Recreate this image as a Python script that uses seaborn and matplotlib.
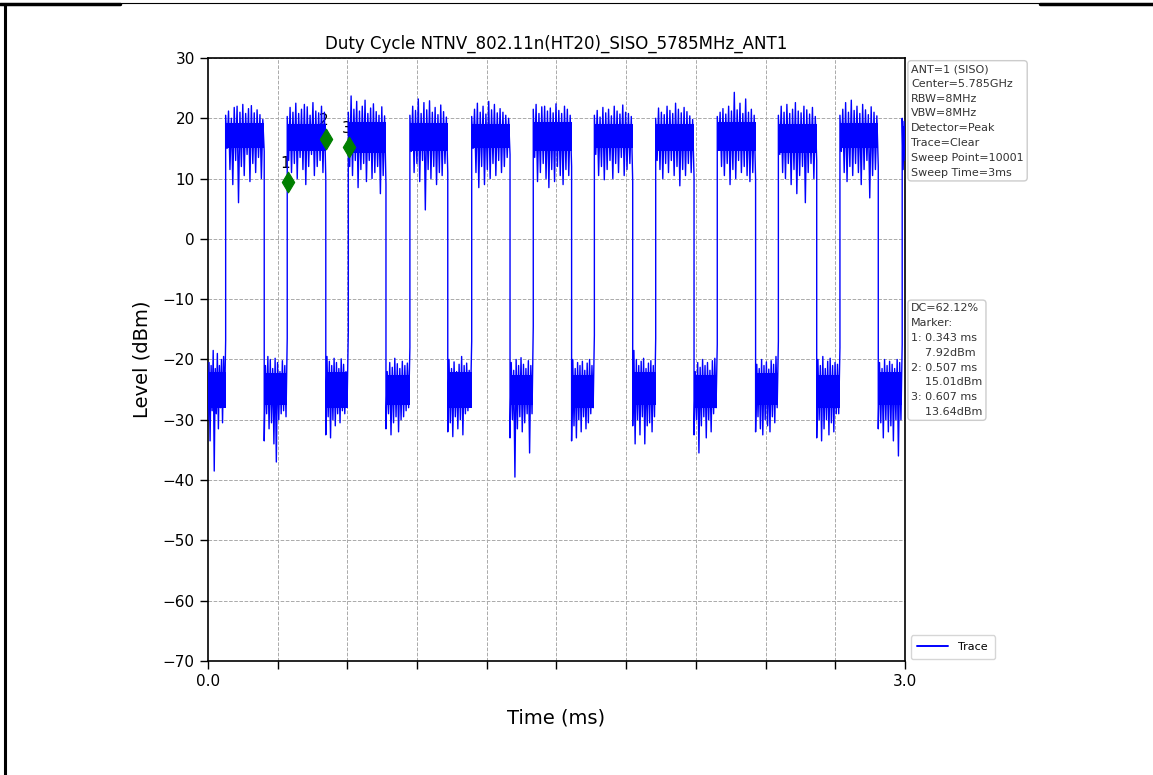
import numpy as np
import pandas as pd
import matplotlib
matplotlib.use('Agg')
import matplotlib.pyplot as plt
from matplotlib.lines import Line2D
import seaborn as sns

# burst (transmit on) edges in ms
on_start = [0.076, 0.341, 0.604, 0.869, 1.135, 1.400, 1.663, 1.927, 2.192, 2.455, 2.720, 2.988]
on_end = [0.242, 0.507, 0.766, 1.032, 1.300, 1.565, 1.828, 2.092, 2.357, 2.620, 2.885, 3.000]

# solid part of the noise band in each burst (dBm)
on_core_top = [19.2, 19.0, 19.4, 19.2, 19.0, 19.3, 19.0, 19.0, 19.3, 19.1, 19.2, 18.8]
on_core_bottom = [15.0, 14.5, 14.2, 14.5, 15.0, 14.5, 15.0, 14.5, 14.5, 14.2, 15.0, 14.5]

# upper / lower swings of the trace inside each burst (dBm)
on_peaks = [
    [20.5, 21.2, 20.0, 21.8, 22.0, 21.0, 22.3, 20.8, 21.6, 22.1, 20.9, 21.4, 20.6, 19.8],
    [20.3, 21.8, 21.0, 22.5, 20.8, 21.5, 22.3, 21.9, 20.5, 22.6, 21.2, 20.9, 22.0, 21.0],
    [21.0, 23.7, 21.5, 22.8, 21.2, 22.0, 23.0, 20.8, 21.7, 22.4, 21.1, 20.5, 21.9, 20.4],
    [20.5, 22.0, 21.3, 23.2, 20.8, 22.6, 21.4, 22.9, 21.0, 21.8, 20.6, 22.2, 21.1, 20.2],
    [20.3, 21.5, 22.5, 21.0, 22.0, 20.7, 22.8, 21.4, 22.3, 20.9, 21.6, 21.0, 20.5, 20.0],
    [21.5, 22.3, 20.8, 21.9, 22.0, 21.2, 21.7, 20.9, 22.4, 21.3, 20.8, 22.0, 21.5, 20.5],
    [20.5, 21.3, 20.2, 21.8, 20.9, 21.5, 20.4, 22.0, 21.2, 20.7, 22.2, 21.0, 20.8, 20.3],
    [20.0, 21.7, 21.0, 20.6, 22.0, 21.3, 20.8, 22.5, 21.5, 20.9, 21.8, 21.1, 20.4, 19.8],
    [20.3, 21.0, 21.6, 20.7, 22.0, 21.2, 24.3, 21.4, 22.5, 20.8, 23.2, 21.0, 21.5, 20.5],
    [20.5, 22.0, 21.0, 22.3, 20.8, 21.5, 22.6, 21.2, 20.9, 22.0, 21.4, 20.7, 21.8, 20.3],
    [20.5, 21.5, 22.6, 21.0, 23.0, 21.3, 22.0, 20.8, 22.3, 21.4, 20.6, 21.9, 21.0, 20.4],
    [20.0, 19.5],
]
on_dips = [
    [15.0, 11.5, 9.0, 13.0, 6.0, 12.0, 10.5, 14.0, 9.5, 12.5, 11.0, 13.5, 10.0, 14.5],
    [13.0, 11.0, 12.5, 10.0, 13.5, 11.5, 9.0, 12.0, 14.0, 10.5, 12.0, 13.0, 11.0, 10.0],
    [12.0, 10.5, 13.0, 8.5, 11.5, 12.5, 9.5, 13.0, 10.0, 11.0, 12.0, 7.5, 10.5, 9.0],
    [14.5, 11.0, 12.5, 9.5, 13.0, 4.8, 11.5, 10.0, 12.0, 9.0, 11.0, 10.5, 12.5, 11.0],
    [15.0, 11.0, 8.5, 12.0, 9.0, 11.5, 10.0, 12.5, 10.5, 13.0, 11.0, 12.0, 13.5, 14.0],
    [13.5, 9.5, 11.0, 12.5, 10.0, 8.5, 11.5, 9.5, 12.0, 10.5, 9.0, 11.5, 10.5, 12.0],
    [14.0, 10.5, 12.0, 9.8, 11.5, 13.0, 10.0, 12.5, 11.0, 13.5, 10.5, 11.5, 12.5, 9.5],
    [13.0, 11.5, 10.0, 12.5, 11.0, 13.0, 10.5, 12.0, 8.8, 11.5, 10.5, 12.5, 11.0, 10.2],
    [15.0, 12.0, 10.5, 12.5, 9.0, 11.5, 10.0, 13.0, 11.0, 12.0, 10.5, 9.5, 11.0, 9.8],
    [14.0, 11.0, 10.0, 12.5, 9.0, 11.5, 7.5, 10.5, 12.0, 6.0, 11.0, 12.5, 10.0, 13.0],
    [14.5, 11.0, 9.5, 12.0, 10.5, 12.5, 11.0, 9.0, 11.5, 13.0, 6.8, 10.5, 11.5, 12.0],
    [11.5, 13.0],
]

# solid part of the noise floor in the gap before each burst (dBm)
off_core_top = [-22.0, -22.3, -22.0, -22.5, -22.0, -22.5, -22.5, -22.0, -22.5, -22.3, -22.5, -22.0]
off_core_bottom = [-28.0, -27.5, -28.0, -27.5, -28.0, -27.5, -28.0, -27.5, -28.0, -27.5, -28.0, -27.5]

# swings of the trace in the gaps before each burst (dBm)
off_peaks = [
    [-20.5, -21.0, -18.5, -21.5, -19.0, -21.0, -20.0, -19.5, -16.8],
    [-21.0, -19.5, -20.0, -21.5, -19.8, -20.5, -22.0, -20.2, -21.0, -16.5],
    [-19.5, -20.3, -21.0, -19.8, -20.5, -21.5, -19.9, -20.8, -22.0, -15.3],
    [-22.0, -20.5, -21.3, -19.8, -20.7, -21.5, -20.3, -21.0, -20.6, -18.0],
    [-20.0, -21.5, -20.4, -22.0, -20.8, -19.5, -21.0, -20.6, -21.8, -17.0],
    [-20.5, -21.8, -20.0, -21.0, -19.7, -20.8, -21.5, -20.2, -21.0, -14.5],
    [-20.0, -21.5, -20.5, -21.0, -20.3, -21.8, -20.6, -20.0, -21.0, -16.0],
    [-18.5, -20.0, -21.0, -20.3, -19.8, -21.5, -20.6, -20.2, -21.0, -16.5],
    [-22.0, -20.5, -21.3, -20.0, -21.0, -20.5, -21.8, -20.2, -19.8, -17.5],
    [-20.8, -21.5, -20.0, -21.0, -20.4, -21.6, -20.2, -20.8, -19.5, -17.0],
    [-20.0, -21.0, -19.5, -21.5, -20.3, -19.8, -21.0, -20.5, -20.8, -18.0],
    [-20.5, -21.5, -20.0, -21.0, -20.3, -20.8, -21.5, -20.0, -20.5, -17.5],
]
off_dips = [
    [-30.0, -33.5, -28.5, -38.5, -29.0, -31.5, -28.0, -30.5, -27.5],
    [-33.5, -29.0, -31.5, -30.5, -34.0, -37.0, -30.0, -29.0, -28.5, -29.5],
    [-32.5, -29.5, -33.0, -30.0, -31.0, -29.0, -30.5, -28.5, -29.0, -27.0],
    [-31.5, -29.0, -32.5, -30.5, -29.5, -32.0, -30.0, -29.5, -28.5, -28.0],
    [-32.0, -30.5, -32.8, -29.5, -31.5, -30.0, -32.5, -29.0, -28.5, -27.5],
    [-33.0, -30.0, -39.5, -31.5, -29.5, -32.0, -30.5, -29.0, -35.5, -29.0],
    [-33.5, -31.0, -33.0, -30.0, -32.0, -29.5, -31.5, -30.5, -29.0, -28.0],
    [-31.0, -34.0, -30.0, -32.5, -29.5, -34.0, -31.0, -30.5, -32.0, -29.5],
    [-32.5, -30.0, -35.5, -31.0, -29.5, -33.0, -30.0, -32.0, -29.0, -28.0],
    [-32.0, -29.5, -31.5, -32.5, -30.0, -31.0, -32.0, -29.5, -30.5, -28.0],
    [-33.0, -30.0, -33.5, -31.5, -30.0, -32.5, -30.5, -32.0, -29.0, -29.0],
    [-31.5, -30.5, -33.0, -30.0, -32.0, -31.0, -33.5, -30.0, -36.0, -30.0],
]

# markers
marker_time = [0.343, 0.507, 0.607]
marker_drawn = [9.5, 16.6, 15.2]
marker_names = ['1', '2', '3']
marker_text = ['7.92dBm', '15.01dBm', '13.64dBm']

title = 'Duty Cycle NTNV_802.11n(HT20)_SISO_5785MHz_ANT1'
settings = ['ANT=1 (SISO)', 'Center=5.785GHz', 'RBW=8MHz', 'VBW=8MHz', 'Detector=Peak',
            'Trace=Clear', 'Sweep Point=10001', 'Sweep Time=3ms']
duty_cycle = 'DC=62.12%'


# stitch the trace together segment by segment
times = []
levels = []
bands = []  # (t0, t1, lo, hi) for the solid noise core
prev_end = 0.0
for i in range(len(on_start)):
    vals = []
    for d, p in zip(off_dips[i], off_peaks[i]):
        vals += [d, p]
    times += list(np.linspace(prev_end, on_start[i], len(vals)))
    levels += vals
    bands.append((prev_end, on_start[i], off_core_bottom[i], off_core_top[i]))
    vals = []
    for p, d in zip(on_peaks[i], on_dips[i]):
        vals += [p, d]
    times += list(np.linspace(on_start[i], on_end[i], len(vals)))
    levels += vals
    bands.append((on_start[i], on_end[i], on_core_bottom[i], on_core_top[i]))
    prev_end = on_end[i]
trace_df = pd.DataFrame({'time': times, 'level': levels})
marker_df = pd.DataFrame({'time': marker_time, 'level': marker_drawn})

sns.set_style('ticks')
plt.rcParams['font.family'] = ['DejaVu Sans']
plt.rcParams['text.color'] = 'black'
plt.rcParams['axes.labelcolor'] = 'black'
plt.rcParams['xtick.color'] = 'black'
plt.rcParams['ytick.color'] = 'black'

fig = plt.figure(figsize=(11.53, 7.75), dpi=100)
fig.patch.set_facecolor('white')
ax = fig.add_axes([0.1804, 0.1471, 0.6045, 0.7781])

sns.lineplot(data=trace_df, x='time', y='level', color='blue', lw=1.0,
             estimator=None, sort=False, ax=ax, label='Trace', zorder=3)
for t0, t1, lo, hi in bands:
    ax.fill_between([t0, t1], lo, hi, color='blue', lw=0, zorder=3)
sns.scatterplot(data=marker_df, x='time', y='level', marker='d', s=110, color='green',
                edgecolor='green', ax=ax, zorder=4, legend=False)
for t, y, n in zip(marker_time, marker_drawn, marker_names):
    ax.text(t - 0.01, y + 1.8, n, ha='center', va='bottom', fontsize=11, zorder=2)

ax.set_xlim(0, 3.0)
ax.set_ylim(-70, 30)
ax.set_xticks([0.0, 3.0])
ax.set_xticklabels(['0.0', '3.0'])
ax.set_xticks(np.arange(1, 10) * 0.3, minor=True)
ax.set_yticks(np.arange(-70, 31, 10))
ax.tick_params(axis='both', which='both', direction='out', length=6, width=1, labelsize=11, color='black')
ax.grid(True, which='major', axis='y', ls='--', color='#aaaaaa', lw=0.7)
ax.grid(True, which='minor', axis='x', ls='--', color='#aaaaaa', lw=0.7)
for sp in ax.spines.values():
    sp.set_color('black')
    sp.set_linewidth(1.2)

ax.set_title(title, fontsize=12, pad=7)
ax.set_xlabel('Time (ms)', fontsize=14, labelpad=14)
ax.set_ylabel('Level (dBm)', fontsize=14, labelpad=8)

box = dict(boxstyle='round,pad=0.3', fc='white', ec='#cccccc', lw=1)
ax.text(1.009, 0.99, '\n'.join(settings), transform=ax.transAxes, ha='left', va='top',
        fontsize=8, linespacing=1.6, bbox=box, color='#333333')
marker_lines = [duty_cycle, 'Marker:']
for n, t, v in zip(marker_names, marker_time, marker_text):
    marker_lines += [f'{n}: {t:.3f} ms', f'    {v}']
ax.text(1.009, 0.593, '\n'.join(marker_lines), transform=ax.transAxes, ha='left', va='top',
        fontsize=8, linespacing=1.6, bbox=box, color='#333333')

leg = ax.legend(loc='lower left', bbox_to_anchor=(1.005, 0.0), borderaxespad=0.2, fontsize=8,
                frameon=True, edgecolor='#cccccc', handlelength=2.8, borderpad=0.6, handletextpad=0.9)
leg.get_lines()[0].set_linewidth(1.4)

# page frame around the screenshot
fig.add_artist(Line2D([5 / 1153, 5 / 1153], [0, 771 / 775], transform=fig.transFigure, color='black', lw=2.2))
fig.add_artist(Line2D([0, 120 / 1153], [771 / 775, 771 / 775], transform=fig.transFigure, color='black', lw=2.5))
fig.add_artist(Line2D([1040 / 1153, 1], [771 / 775, 771 / 775], transform=fig.transFigure, color='black', lw=2.5))
fig.add_artist(Line2D([120 / 1153, 1040 / 1153], [772 / 775, 772 / 775], transform=fig.transFigure, color='black', lw=0.8))

fig.savefig('out.png', dpi=100)
